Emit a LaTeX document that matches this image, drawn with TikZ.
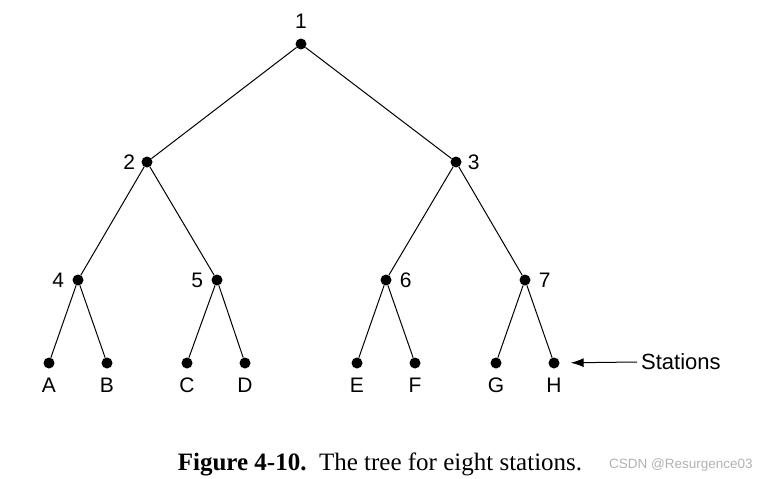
\documentclass[tikz,border=0pt]{standalone}
\usepackage{fontspec}
\setmainfont{Liberation Serif}
\setsansfont{Liberation Sans}
\usetikzlibrary{arrows.meta, positioning}
\tikzstyle{station} = [circle, fill=black, inner sep=0pt, minimum size=11pt]
\tikzstyle{edge} = [thick, line width=1pt]
\tikzstyle{arrow} = [line width=1pt, -{Latex[length=13pt, width=9pt]}]
\tikzset{every label/.style={inner sep=0pt, font=\sffamily\fontsize{21}{24}\selectfont}}

\begin{document}
\begin{tikzpicture}[x=1pt, y=-1pt]
    \useasboundingbox (0,0) rectangle (764,479);

    % Root and inner nodes
    \node[station, label={[label distance=10pt]above:1}] (n1) at (301,44) {};
    \node[station, label={[label distance=6pt]left:2}] (n2) at (147,162) {};
    \node[station, label={[label distance=6pt]right:3}] (n3) at (456,162) {};
    \node[station, label={[label distance=8pt]left:4}] (n4) at (78,280) {};
    \node[station, label={[label distance=8pt]left:5}] (n5) at (217,280) {};
    \node[station, label={[label distance=8pt]right:6}] (n6) at (386,280) {};
    \node[station, label={[label distance=8pt]right:7}] (n7) at (525,280) {};

    % Leaves (stations)
    \node[station, label={[label distance=9pt]below:A}] (A) at (49,363) {};
    \node[station, label={[label distance=9pt]below:B}] (B) at (107,363) {};
    \node[station, label={[label distance=9pt]below:C}] (C) at (187,363) {};
    \node[station, label={[label distance=9pt]below:D}] (D) at (245,363) {};
    \node[station, label={[label distance=9pt]below:E}] (E) at (357,363) {};
    \node[station, label={[label distance=9pt]below:F}] (F) at (415,363) {};
    \node[station, label={[label distance=9pt]below:G}] (G) at (496,363) {};
    \node[station, label={[label distance=9pt]below:H}] (H) at (554,363) {};

    % Tree edges
    \draw[edge] (n1) -- (n2);
    \draw[edge] (n1) -- (n3);
    \draw[edge] (n2) -- (n4);
    \draw[edge] (n2) -- (n5);
    \draw[edge] (n3) -- (n6);
    \draw[edge] (n3) -- (n7);
    \draw[edge] (n4) -- (A);
    \draw[edge] (n4) -- (B);
    \draw[edge] (n5) -- (C);
    \draw[edge] (n5) -- (D);
    \draw[edge] (n6) -- (E);
    \draw[edge] (n6) -- (F);
    \draw[edge] (n7) -- (G);
    \draw[edge] (n7) -- (H);

    % Pointer to the stations
    \node[font=\sffamily\fontsize{22}{26}\selectfont, inner sep=4pt, anchor=west] (stations) at (637,362) {Stations};
    \draw[arrow, shorten >=11pt] (stations.west) -- (H);

    % Caption
    \node[font=\fontsize{25}{29}\selectfont] (caption) at (380,464) {\textbf{Figure 4-10.}\ \ The tree for eight stations.};
    \node[font=\sffamily\fontsize{13.5}{15}\selectfont, text=black!30] (mark) at (681,465) {CSDN @Resurgence03};
\end{tikzpicture}
\end{document}
